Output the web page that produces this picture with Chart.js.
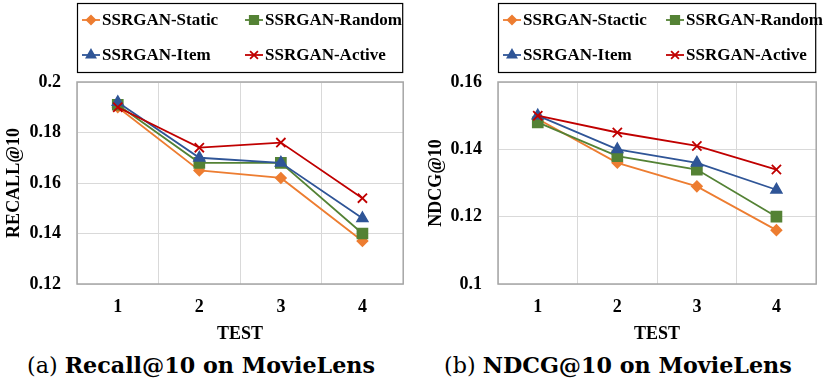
<!DOCTYPE html>
<html><head><meta charset="utf-8">
<script src="https://cdn.jsdelivr.net/npm/chart.js@4"></script>
<style>
html,body{margin:0;padding:0;background:#fff;width:825px;height:382px;overflow:hidden;}
#c1{position:absolute;left:0;top:0;}
#c2{position:absolute;left:412px;top:0;}
.cap{position:absolute;top:352px;font-family:"DejaVu Serif",serif;font-size:20px;white-space:nowrap;color:#000;line-height:26px}
.cap b{font-weight:bold}
</style></head><body>
<canvas id="c1" width="412" height="345"></canvas>
<canvas id="c2" width="413" height="345"></canvas>
<div class="cap" id="capA" style="left:27px">(a) <b>Recall@10 on MovieLens</b></div>
<div class="cap" id="capB" style="left:444px">(b) <b>NDCG@10 on MovieLens</b></div>
<script>
// ---- data ----
const tests = ['1', '2', '3', '4'];
const recallNames = ['SSRGAN-Static', 'SSRGAN-Random', 'SSRGAN-Item', 'SSRGAN-Active'];
const ndcgNames = ['SSRGAN-Stactic', 'SSRGAN-Random', 'SSRGAN-Item', 'SSRGAN-Active'];
const recallStatic = [0.190, 0.165, 0.162, 0.137];
const recallRandom = [0.191, 0.168, 0.168, 0.140];
const recallItem   = [0.192, 0.170, 0.168, 0.146];
const recallActive = [0.190, 0.174, 0.176, 0.154];
const ndcgStatic = [0.149, 0.136, 0.129, 0.116];
const ndcgRandom = [0.148, 0.138, 0.134, 0.120];
const ndcgItem   = [0.150, 0.140, 0.136, 0.128];
const ndcgActive = [0.150, 0.145, 0.141, 0.134];
const recallTicks = [0.12, 0.14, 0.16, 0.18, 0.2];
const ndcgTicks = [0.1, 0.12, 0.14, 0.16];

// ---- styles ----
const colors = ['#ED7D31', '#548235', '#2F5597', '#C00000'];
const pStyles = ['rectRot', 'rect', 'triangle', 'crossRot'];
const pRadius = [5, 7, 6, 6.5];
const FONT = 'Liberation Serif';
Chart.defaults.font.family = FONT;
Chart.defaults.font.size = 18;
Chart.defaults.font.weight = 'bold';
Chart.defaults.color = '#000';

const frameLegend = {
  id: 'frameLegend',
  afterDatasetsDraw(chart) {
    const ctx = chart.ctx, a = chart.chartArea;
    ctx.save();
    ctx.strokeStyle = '#a6a6a6';
    ctx.lineWidth = 1.5;
    ctx.strokeRect(a.left, a.top, a.right - a.left, a.bottom - a.top);
    ctx.restore();
  },
  afterDraw(chart) {
    const ctx = chart.ctx, a = chart.chartArea;
    ctx.save();
    ctx.strokeStyle = '#000';
    ctx.lineWidth = 1.2;
    ctx.strokeRect(a.left + 0.5, 3.5, a.right - a.left - 1, 69);
    const rows = [20, 55], cols = [a.left + 5, a.left + 168];
    chart.data.datasets.forEach((ds, i) => {
      const x = cols[i % 2], y = rows[Math.floor(i / 2)];
      ctx.strokeStyle = ds.borderColor;
      ctx.lineWidth = 1.8;
      ctx.beginPath(); ctx.moveTo(x, y); ctx.lineTo(x + 18, y); ctx.stroke();
      ctx.fillStyle = ds.borderColor;
      Chart.helpers.drawPoint(ctx, {pointStyle: ds.pointStyle, radius: ds.pointRadius * 0.85, rotation: 0, borderWidth: 1.8}, x + 9, y);
      ctx.fillStyle = '#000';
      ctx.font = 'bold 17px "' + FONT + '"';
      ctx.textBaseline = 'middle';
      ctx.textAlign = 'left';
      ctx.fillText(ds.label, x + 20, y + 1);
    });
    ctx.restore();
  }
};

function makeChart(id, names, series, ticks, yTitle, yWidth, padRight, titlePad) {
  const datasets = series.map((vals, i) => ({
    label: names[i], data: vals,
    borderColor: colors[i], backgroundColor: colors[i],
    pointBackgroundColor: colors[i], pointBorderColor: colors[i],
    pointStyle: pStyles[i], pointRadius: pRadius[i], pointBorderWidth: 1.8,
    borderWidth: 1.8, tension: 0, order: 3 - i
  }));
  return new Chart(document.getElementById(id), {
    type: 'line',
    data: {labels: tests, datasets},
    options: {
      responsive: false, animation: false, devicePixelRatio: 1,
      layout: {padding: {top: 82, right: padRight, left: 0, bottom: 0}},
      plugins: {legend: {display: false}, tooltip: {enabled: false}},
      scales: {
        x: {
          offset: true,
          grid: {offset: true, color: '#d9d9d9', lineWidth: 1, drawTicks: false},
          border: {display: false},
          ticks: {padding: 13},
          title: {display: true, text: 'TEST', padding: {top: 0, bottom: 0}},
          afterFit(s) { s.height = 61; }
        },
        y: {
          min: ticks[0], max: ticks[ticks.length - 1],
          afterBuildTicks(s) { s.ticks = ticks.map(v => ({value: v})); },
          grid: {color: '#d9d9d9', lineWidth: 1, drawTicks: false},
          border: {display: false},
          ticks: {padding: 16, callback: v => String(+v.toFixed(2))},
          title: {display: true, text: yTitle, padding: {top: titlePad, bottom: 0}},
          afterFit(s) { s.width = yWidth; }
        }
      }
    },
    plugins: [frameLegend]
  });
}

makeChart('c1', recallNames, [recallStatic, recallRandom, recallItem, recallActive], recallTicks, 'RECALL@10', 77, 8, 4);
makeChart('c2', ndcgNames, [ndcgStatic, ndcgRandom, ndcgItem, ndcgActive], ndcgTicks, 'NDCG@10', 86, 2, 14);

function fit(id, w) {
  const el = document.getElementById(id);
  const cw = el.getBoundingClientRect().width;
  const fs = 20 * w / cw;
  el.style.fontSize = fs.toFixed(2) + 'px';
}
fit('capA', 348);
fit('capB', 348);
</script>
</body></html>
